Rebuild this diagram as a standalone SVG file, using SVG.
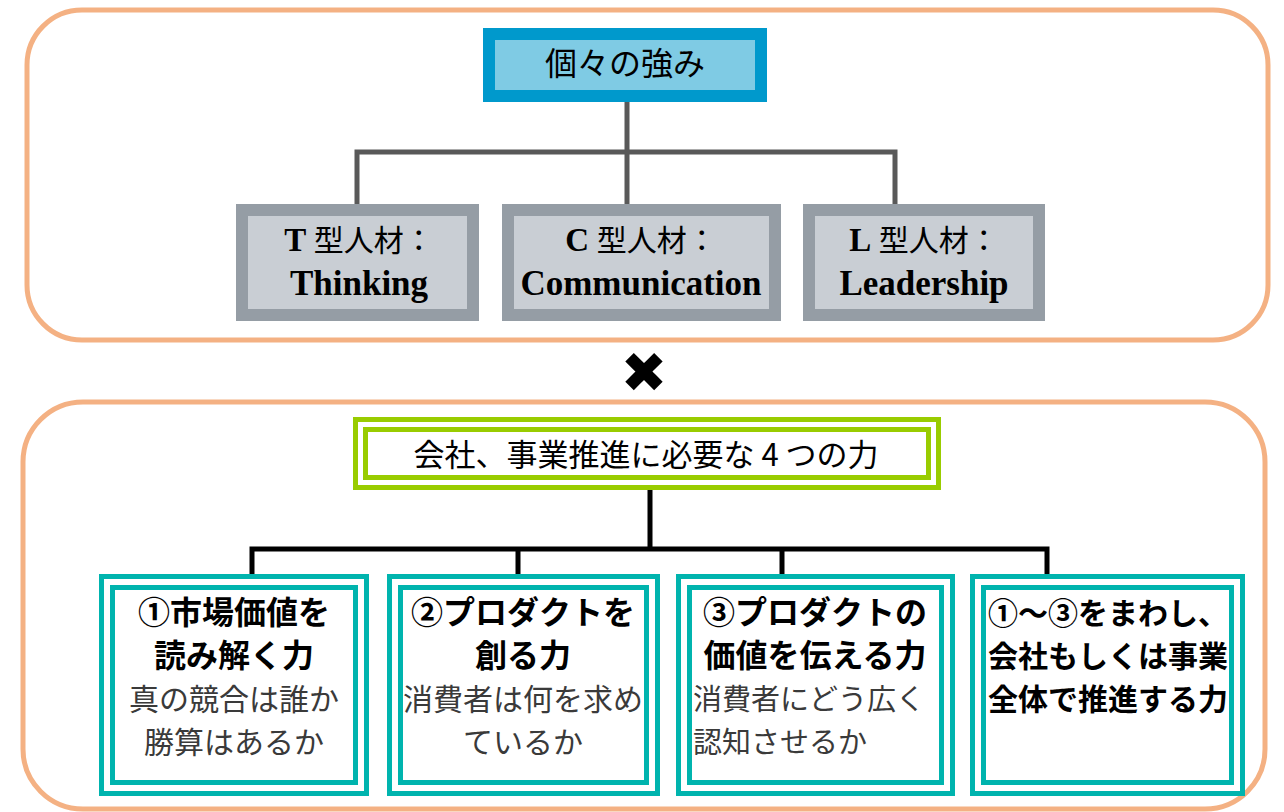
<svg xmlns="http://www.w3.org/2000/svg" width="1284" height="812" viewBox="0 0 1284 812">
<style>
.panel{fill:#fff;stroke:#F4B183;stroke-width:5}
.jp{font-family:"Noto Sans CJK JP","Noto Sans CJK SC",sans-serif}
.mix{font-family:"Liberation Serif","Noto Sans CJK JP",serif}
.gbox{fill:#C9CED4;stroke:#959DA5;stroke-width:12}
.teal{fill:none;stroke:#00B4AE;stroke-width:5}
.green{fill:none;stroke:#99CC00;stroke-width:5}
.b{font-weight:bold;fill:#000}
.s{fill:#3A3A3A}
.c1{stroke:#595959;stroke-width:5;fill:none}
.c2{stroke:#000;stroke-width:5;fill:none}
</style>
<rect width="1284" height="812" fill="#fff"/>
<g id="panel-top"><rect class="panel" x="27" y="10" width="1241" height="330" rx="55"/></g>
<g id="panel-bottom"><rect class="panel" x="23" y="402" width="1242" height="407" rx="60"/></g>
<g id="connectors">
<path class="c1" d="M627 102V210M357 210V152H895V210"/>
<path class="c2" d="M650 490V549M252 574V549H1047V574M518 549V574M782 549V574"/>
</g>
<g id="strength">
<rect x="489" y="34" width="272" height="62" fill="#7FCBE4" stroke="#0099CC" stroke-width="12"/>
<text class="jp" x="625" y="75" font-size="32" text-anchor="middle">個々の強み</text>
</g>
<g id="t-type">
<rect class="gbox" x="242" y="210" width="231" height="105"/>
<text class="mix" x="359" y="251" font-size="30" text-anchor="middle"><tspan font-weight="bold" font-size="33">T</tspan> 型人材：</text>
<text class="mix" x="359" y="295" font-size="35" text-anchor="middle" font-weight="bold">Thinking</text>
</g>
<g id="c-type">
<rect class="gbox" x="508" y="210" width="267" height="105"/>
<text class="mix" x="641" y="251" font-size="30" text-anchor="middle"><tspan font-weight="bold" font-size="33">C</tspan> 型人材：</text>
<text class="mix" x="641" y="295" font-size="35" text-anchor="middle" font-weight="bold">Communication</text>
</g>
<g id="l-type">
<rect class="gbox" x="809" y="210" width="230" height="105"/>
<text class="mix" x="924" y="251" font-size="30" text-anchor="middle"><tspan font-weight="bold" font-size="33">L</tspan> 型人材：</text>
<text class="mix" x="924" y="295" font-size="35" text-anchor="middle" font-weight="bold">Leadership</text>
</g>
<g id="times">
<text x="644" y="392" font-family="DejaVu Sans,sans-serif" font-size="56" text-anchor="middle">✖</text>
</g>
<g id="four-powers">
<rect class="green" x="355.5" y="419.5" width="583" height="68"/>
<rect class="green" x="365.5" y="429.5" width="563" height="48"/>
<text class="jp" x="646" y="466" font-size="31" text-anchor="middle">会社、事業推進に必要な 4 つの力</text>
</g>
<g id="power-1">
<rect class="teal" x="101.5" y="576.5" width="265" height="217"/>
<rect class="teal" x="112.5" y="587.5" width="243" height="195"/>
<text class="jp b" x="234" y="624" font-size="32" text-anchor="middle">①市場価値を</text>
<text class="jp b" x="234" y="667" font-size="32" text-anchor="middle">読み解く力</text>
<text class="jp s" x="234" y="710" font-size="30" text-anchor="middle">真の競合は誰か</text>
<text class="jp s" x="234" y="753" font-size="30" text-anchor="middle">勝算はあるか</text>
</g>
<g id="power-2">
<rect class="teal" x="389.5" y="576.5" width="268" height="217"/>
<rect class="teal" x="400.5" y="587.5" width="246" height="195"/>
<text class="jp b" x="523" y="624" font-size="32" text-anchor="middle">②プロダクトを</text>
<text class="jp b" x="523" y="667" font-size="32" text-anchor="middle">創る力</text>
<text class="jp s" x="523" y="710" font-size="30" text-anchor="middle">消費者は何を求め</text>
<text class="jp s" x="523" y="753" font-size="30" text-anchor="middle">ているか</text>
</g>
<g id="power-3">
<rect class="teal" x="678.5" y="576.5" width="274" height="217"/>
<rect class="teal" x="689.5" y="587.5" width="252" height="195"/>
<text class="jp b" x="815" y="624" font-size="32" text-anchor="middle">③プロダクトの</text>
<text class="jp b" x="815" y="667" font-size="32" text-anchor="middle">価値を伝える力</text>
<text class="jp s" x="693" y="710" font-size="29">消費者にどう広く</text>
<text class="jp s" x="693" y="753" font-size="29">認知させるか</text>
</g>
<g id="power-4">
<rect class="teal" x="972.5" y="576.5" width="270" height="217"/>
<rect class="teal" x="983.5" y="587.5" width="248" height="195"/>
<text class="jp b" x="988" y="624" font-size="30">①～③をまわし、</text>
<text class="jp b" x="988" y="667" font-size="30">会社もしくは事業</text>
<text class="jp b" x="988" y="710" font-size="30">全体で推進する力</text>
</g>
</svg>
